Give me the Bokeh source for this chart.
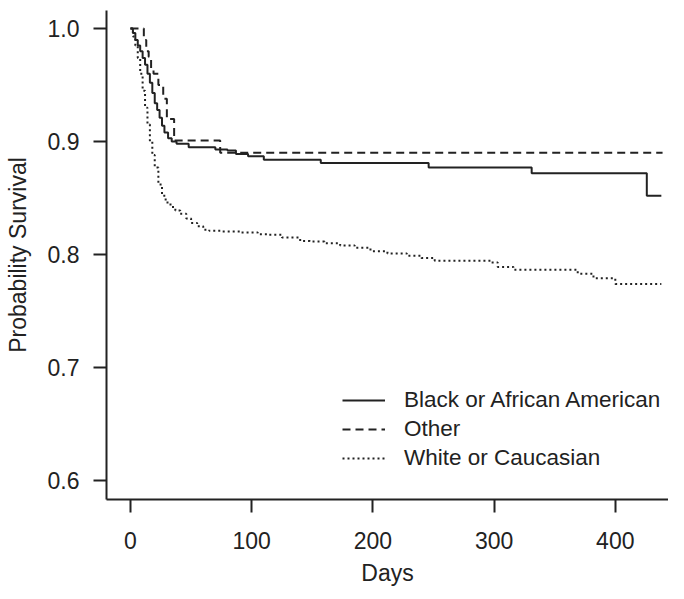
from bokeh.plotting import figure
from bokeh.models import FixedTicker, PrintfTickFormatter
from bokeh.embed import file_html
from bokeh.resources import INLINE

FONT = "Liberation Sans"
INK = "#222222"

# Kaplan-Meier step data (days, survival probability)
black_t = [0, 2, 4, 6, 8, 10, 12, 14, 16, 18, 20, 22, 24, 26, 28, 31, 34, 38, 48, 70,
           80, 87, 97, 110, 157, 246, 331, 426]
black_s = [1.0, 0.996, 0.99, 0.985, 0.98, 0.974, 0.968, 0.96, 0.952, 0.943, 0.934, 0.928,
           0.921, 0.914, 0.908, 0.903, 0.900, 0.898, 0.895, 0.893, 0.892, 0.889, 0.887,
           0.884, 0.881, 0.877, 0.872, 0.852]
black_end = 438

other_t = [0, 11, 13, 15, 17, 19, 23, 27, 30, 36, 74]
other_s = [1.0, 0.99, 0.98, 0.975, 0.965, 0.96, 0.95, 0.938, 0.92, 0.901, 0.89]
other_end = 439

white_t = [0, 2, 4, 6, 8, 10, 12, 14, 16, 18, 20, 23, 26, 29, 33, 37, 41, 46, 50, 55,
           60, 65, 75, 91, 105, 113, 125, 140, 148, 160, 173, 185, 198, 212, 228, 240,
           251, 297, 303, 316, 369, 382, 400]
white_s = [1.0, 0.993, 0.985, 0.974, 0.96, 0.945, 0.93, 0.915, 0.9, 0.888, 0.877, 0.862,
           0.852, 0.846, 0.842, 0.839, 0.836, 0.832, 0.828, 0.825, 0.822, 0.821, 0.8205,
           0.8195, 0.818, 0.8175, 0.815, 0.812, 0.8115, 0.81, 0.808, 0.806, 0.803, 0.801,
           0.799, 0.797, 0.7946, 0.793, 0.789, 0.7866, 0.783, 0.779, 0.774]
white_end = 438

x_ticks = [0, 100, 200, 300, 400]
y_ticks = [0.6, 0.7, 0.8, 0.9, 1.0]

p = figure(frame_width=562, frame_height=489,
           x_range=(-19.8, 443.9), y_range=(0.5832, 1.016),
           min_border_left=106, min_border_right=0, min_border_top=10, min_border_bottom=84,
           title=None, output_backend="svg", toolbar_location=None)
p.outline_line_color = None
p.xgrid.visible = False
p.ygrid.visible = False
p.background_fill_color = "white"
p.border_fill_color = "white"

series = [
    (black_t, black_s, black_end, "Black or African American", "solid"),
    (other_t, other_s, other_end, "Other", "8 5"),
    (white_t, white_s, white_end, "White or Caucasian", "2 3"),
]
for t, s, end, lab, dash in series:
    xs = list(t) + [end]
    ys = list(s) + [s[-1]]
    p.step(xs, ys, mode="after", line_color=INK, line_width=2, line_dash=dash,
           legend_label=lab)

for ax in (p.xaxis[0], p.yaxis[0]):
    ax.axis_line_color = INK
    ax.axis_line_width = 2
    ax.major_tick_line_color = INK
    ax.major_tick_line_width = 2
    ax.major_tick_out = 13
    ax.major_tick_in = 0
    ax.minor_tick_out = 0
    ax.minor_tick_in = 0
    ax.major_label_text_font = FONT
    ax.major_label_text_font_size = "23px"
    ax.major_label_text_color = INK
    ax.axis_label_text_font = FONT
    ax.axis_label_text_font_size = "23px"
    ax.axis_label_text_font_style = "normal"
    ax.axis_label_text_color = INK

p.xaxis[0].ticker = FixedTicker(ticks=x_ticks)
p.yaxis[0].ticker = FixedTicker(ticks=y_ticks)
p.yaxis[0].formatter = PrintfTickFormatter(format="%.1f")
p.xaxis[0].axis_label = "Days"
p.yaxis[0].axis_label = "Probability Survival"
p.xaxis[0].major_label_standoff = 19
p.yaxis[0].major_label_standoff = 14
p.xaxis[0].axis_label_standoff = 8
p.yaxis[0].axis_label_standoff = 14

lg = p.legend[0]
lg.location = (236, 27)
lg.padding = 0
lg.margin = 0
lg.spacing = 1
lg.glyph_width = 43
lg.glyph_height = 28
lg.label_height = 28
lg.label_standoff = 19
lg.label_text_font = FONT
lg.label_text_font_size = "22.5px"
lg.label_text_color = INK
lg.border_line_alpha = 0
lg.background_fill_alpha = 0

open("out.html", "w").write(file_html(p, INLINE))
